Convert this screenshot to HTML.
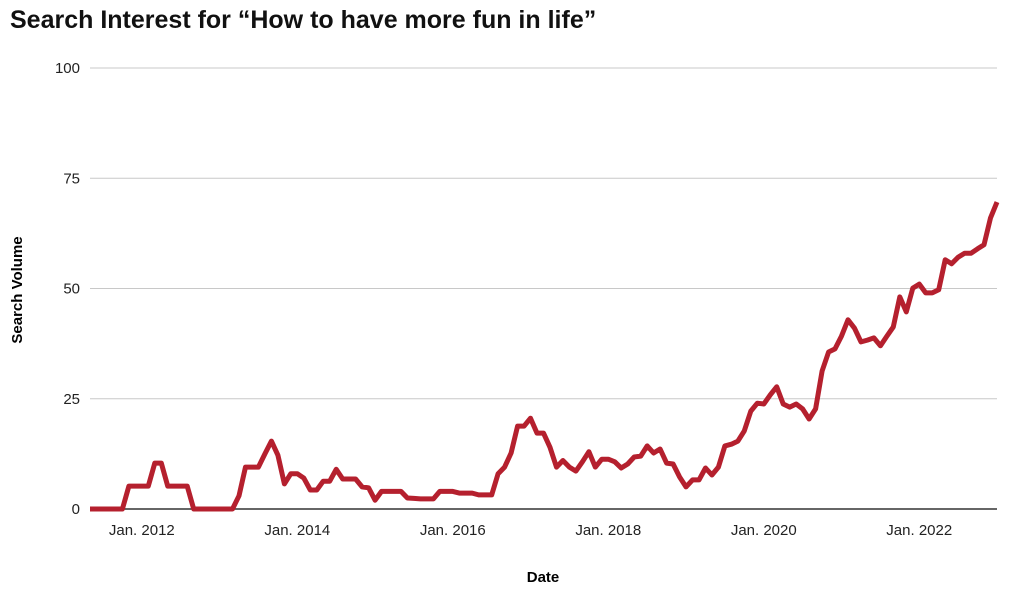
<!DOCTYPE html>
<html><head><meta charset="utf-8"><style>
body{margin:0;background:#fff;font-family:"Liberation Sans",sans-serif}
</style></head><body>
<svg width="1014" height="596" xmlns="http://www.w3.org/2000/svg">
<text x="10" y="28" font-size="25" font-weight="bold" fill="#111">Search Interest for “How to have more fun in life”</text>
<g id="grid"></g><g id="yt"></g><g id="xt"></g>
<text x="543" y="582" font-size="15" font-weight="bold" text-anchor="middle">Date</text>
<text transform="translate(22,290) rotate(-90)" font-size="15" font-weight="bold" text-anchor="middle">Search Volume</text>
<path id="line" fill="none" stroke="#b5202e" stroke-width="5" stroke-linejoin="round"/>
</svg>
<script>
const values=[0,0,0,0,0,0,5.2,5.2,5.2,5.2,10.4,10.4,5.2,5.2,5.2,5.2,0,0,0,0,0,0,0,3,9.5,9.5,9.5,12.5,15.4,12.2,5.7,8,8,7,4.3,4.3,6.3,6.3,9,6.8,6.8,6.8,5,4.8,2,4,4,4,4,2.5,2.4,2.3,2.3,2.3,4,4,4,3.6,3.6,3.6,3.2,3.2,3.2,8,9.5,12.7,18.8,18.8,20.6,17.2,17.2,14,9.5,11,9.5,8.6,10.7,13,9.5,11.3,11.3,10.7,9.3,10.2,11.8,12,14.3,12.7,13.6,10.4,10.2,7.3,5,6.6,6.6,9.3,7.7,9.5,14.3,14.7,15.4,17.7,22.2,24,23.8,25.9,27.7,23.8,23.1,23.8,22.7,20.4,22.7,31.3,35.6,36.3,39.2,42.9,41,37.9,38.3,38.8,37,39.2,41.3,48.1,44.7,50.1,51,49,49,49.7,56.5,55.6,57.1,58,58,59,59.9,66,69.6];
const startMonth=[2011,5];
const yTicks=[0,25,50,75,100];
const xTickLabels=["Jan. 2012","Jan. 2014","Jan. 2016","Jan. 2018","Jan. 2020","Jan. 2022"];
const xTickMonths=[8,32,56,80,104,128];
const X0=90,X1=997,Y0=509,Y1=68;
const x=i=>X0+(X1-X0)*i/(values.length-1);
const y=v=>Y0-(Y0-Y1)*v/100;
const ns="http://www.w3.org/2000/svg";
const grid=document.getElementById('grid'),yt=document.getElementById('yt'),xt=document.getElementById('xt');
yTicks.forEach(t=>{
 const l=document.createElementNS(ns,'line');
 l.setAttribute('x1',X0);l.setAttribute('x2',X1);l.setAttribute('y1',y(t));l.setAttribute('y2',y(t));
 l.setAttribute('stroke',t===0?'#333':'#c8c8c8');l.setAttribute('stroke-width',t===0?1.5:1);
 
 
 grid.appendChild(l);
 const tx=document.createElementNS(ns,'text');
 tx.setAttribute('x',80);tx.setAttribute('y',y(t)+5);tx.setAttribute('text-anchor','end');tx.setAttribute('font-size','15');tx.setAttribute('fill','#222');
 tx.textContent=t;
 
 
 yt.appendChild(tx);
});
xTickLabels.forEach((s,k)=>{
 const tx=document.createElementNS(ns,'text');
 tx.setAttribute('x',x(xTickMonths[k]));tx.setAttribute('y',535);tx.setAttribute('text-anchor','middle');tx.setAttribute('font-size','15');tx.setAttribute('fill','#222');
 tx.textContent=s;
 
 
 xt.appendChild(tx);
});
document.getElementById('line').setAttribute('d',values.map((v,i)=>(i?'L':'M')+x(i).toFixed(1)+','+y(v).toFixed(1)).join(''));
</script>
</body></html>
